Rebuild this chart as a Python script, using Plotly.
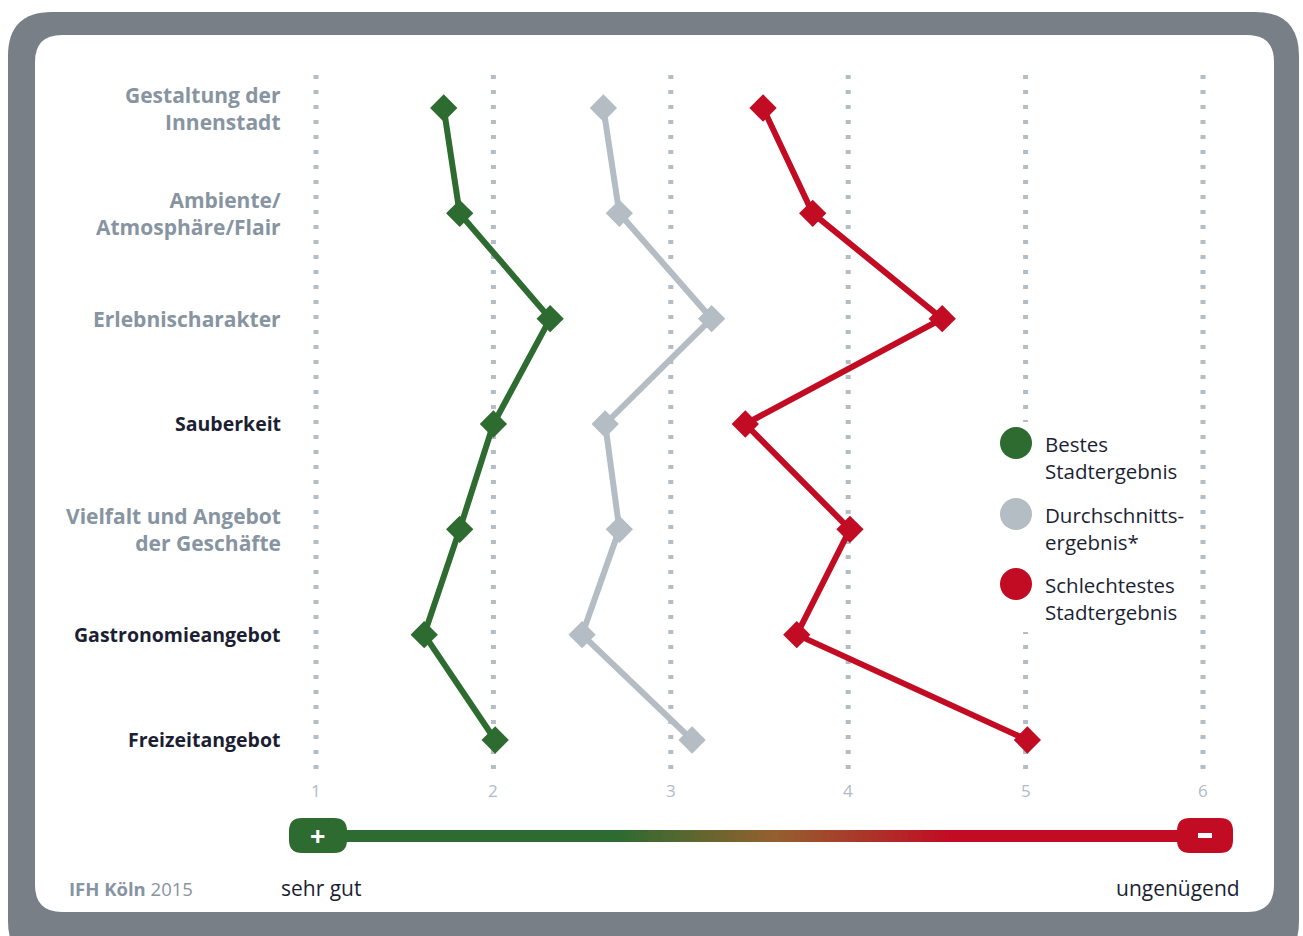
import plotly.graph_objects as go

# ---------------- data ----------------
categories = [
    "Gestaltung der<br>Innenstadt",
    "Ambiente/<br>Atmosphäre/Flair",
    "Erlebnischarakter",
    "Sauberkeit",
    "Vielfalt und Angebot<br>der Geschäfte",
    "Gastronomieangebot",
    "Freizeitangebot",
]
label_dark = [False, False, False, True, False, True, True]
best = [1.72, 1.81, 2.32, 2.00, 1.81, 1.61, 2.01]
average = [2.62, 2.71, 3.23, 2.63, 2.71, 2.50, 3.12]
worst = [3.52, 3.80, 4.53, 3.42, 4.01, 3.71, 5.01]
x_ticks = [1, 2, 3, 4, 5, 6]
legend_labels = ["Bestes<br>Stadtergebnis", "Durchschnitts-<br>ergebnis*", "Schlechtestes<br>Stadtergebnis"]

GREEN = "#2e6b30"
GREY = "#b4bcc4"
RED = "#c20c24"
FRAME = "#787f86"
DARK = "#1c1f33"
LABEL_GREY = "#8794a1"
TICK_GREY = "#aebbc9"
FONT = "Open Sans"

W, H = 1303, 936
X0PX, XUNIT = 316.0, 177.4      # pixel of value 1, pixels per unit
Y0PX, YUNIT = 108.0, 105.33     # pixel of first category, pixels per category


def X(px):
    return 1 + (px - X0PX) / XUNIT


def Y(py):
    return (py - Y0PX) / YUNIT


def rrect_path(x0, y0, x1, y1, r):
    pts = [
        ("M", [(x0 + r, y0)]), ("L", [(x1 - r, y0)]), ("Q", [(x1, y0), (x1, y0 + r)]),
        ("L", [(x1, y1 - r)]), ("Q", [(x1, y1), (x1 - r, y1)]),
        ("L", [(x0 + r, y1)]), ("Q", [(x0, y1), (x0, y1 - r)]),
        ("L", [(x0, y0 + r)]), ("Q", [(x0, y0), (x0 + r, y0)]),
    ]
    s = ""
    for cmd, ps in pts:
        s += cmd + " " + " ".join(f"{X(a):.5f},{Y(b):.5f}" for a, b in ps) + " "
    return s + "Z"


def hex2rgb(h):
    h = h.lstrip("#")
    return tuple(int(h[i:i + 2], 16) for i in (0, 2, 4))


def lerp_color(stops, px):
    if px <= stops[0][0]:
        return stops[0][1]
    for (a, ca), (b, cb) in zip(stops[:-1], stops[1:]):
        if a <= px <= b:
            t = (px - a) / (b - a)
            ra, rb = hex2rgb(ca), hex2rgb(cb)
            c = tuple(round(ra[i] + (rb[i] - ra[i]) * t) for i in range(3))
            return "rgb(%d,%d,%d)" % c
    return stops[-1][1]


shapes = []
# frame
shapes.append(dict(type="path", path=rrect_path(8, 12, 1299, 965, 44), fillcolor=FRAME,
                   line=dict(width=0), layer="below"))
shapes.append(dict(type="path", path=rrect_path(35, 35, 1274, 912, 27), fillcolor="white",
                   line=dict(width=0), layer="below"))
# dotted gridlines
for t in x_ticks:
    shapes.append(dict(type="line", x0=t, x1=t, y0=Y(75), y1=Y(770),
                       line=dict(color=GREY, width=5, dash="4px,11px"), layer="below"))
# white box behind legend
shapes.append(dict(type="rect", x0=X(993), x1=X(1195), y0=Y(422), y1=Y(632),
                   fillcolor="white", line=dict(width=0), layer="below"))
# legend circles
for cy, col in zip([443, 514, 584], [GREEN, GREY, RED]):
    shapes.append(dict(type="circle", x0=X(1000), x1=X(1032), y0=Y(cy - 16), y1=Y(cy + 16),
                       fillcolor=col, line=dict(width=0)))

# gradient bar
stops = [(620, GREEN), (775, "#94602f"), (950, RED)]
shapes.append(dict(type="rect", x0=X(330), x1=X(621), y0=Y(830), y1=Y(842),
                   fillcolor=GREEN, line=dict(width=0)))
px = 620
while px < 950:
    shapes.append(dict(type="rect", x0=X(px), x1=X(px + 3.6), y0=Y(830), y1=Y(842),
                       fillcolor=lerp_color(stops, px + 1.5), line=dict(width=0)))
    px += 3
shapes.append(dict(type="rect", x0=X(949), x1=X(1190), y0=Y(830), y1=Y(842),
                   fillcolor=RED, line=dict(width=0)))
# end pills
shapes.append(dict(type="path", path=rrect_path(289, 818, 347, 853, 13), fillcolor=GREEN,
                   line=dict(width=0)))
shapes.append(dict(type="path", path=rrect_path(1177, 818, 1233, 853, 13), fillcolor=RED,
                   line=dict(width=0)))
shapes.append(dict(type="rect", x0=X(1198), x1=X(1212), y0=Y(833), y1=Y(838),
                   fillcolor="white", line=dict(width=0)))

fig = go.Figure()
yidx = list(range(len(categories)))
for vals, col, name in [(best, GREEN, "Bestes Stadtergebnis"),
                        (average, GREY, "Durchschnittsergebnis*"),
                        (worst, RED, "Schlechtestes Stadtergebnis")]:
    fig.add_trace(go.Scatter(
        x=vals, y=yidx, mode="lines+markers", name=name, showlegend=False,
        line=dict(color=col, width=6),
        marker=dict(symbol="diamond", size=21, color=col),
        hoverinfo="x+name",
    ))

annotations = []
for i, (lab, dark) in enumerate(zip(categories, label_dark)):
    annotations.append(dict(
        x=X(283), y=i, text="<b>" + lab + "</b>", showarrow=False, xanchor="right",
        yanchor="middle", align="right",
        font=dict(family=FONT, size=19.5 if dark else 21, color=DARK if dark else LABEL_GREY)))
for t in x_ticks:
    annotations.append(dict(x=t, y=Y(790), text=str(t), showarrow=False,
                            font=dict(family=FONT, size=17, color=TICK_GREY)))
for cy, lab in zip([457, 528, 598], legend_labels):
    annotations.append(dict(x=X(1043), y=Y(cy), text=lab, showarrow=False, xanchor="left",
                            yanchor="middle", align="left",
                            font=dict(family=FONT, size=20.5, color=DARK)))
annotations.append(dict(x=X(317), y=Y(835), text="<b>+</b>", showarrow=False,
                        font=dict(family=FONT, size=27, color="white")))
annotations.append(dict(x=X(279), y=Y(888), text="sehr gut", showarrow=False, xanchor="left",
                        font=dict(family=FONT, size=21, color=DARK)))
annotations.append(dict(x=X(1242), y=Y(888), text="ungenügend", showarrow=False, xanchor="right",
                        font=dict(family=FONT, size=21, color=DARK)))
annotations.append(dict(x=X(67), y=Y(888), text="<b>IFH Köln</b> 2015", showarrow=False,
                        xanchor="left", font=dict(family=FONT, size=18.5, color=LABEL_GREY)))

fig.update_layout(
    width=W, height=H, autosize=False,
    margin=dict(l=0, r=0, t=0, b=0, pad=0),
    paper_bgcolor="white", plot_bgcolor="rgba(0,0,0,0)",
    xaxis=dict(range=[X(0), X(W)], visible=False, fixedrange=True),
    yaxis=dict(range=[Y(H), Y(0)], visible=False, fixedrange=True),
    shapes=shapes, annotations=annotations,
    font=dict(family=FONT),
)

fig.write_html("out.html")
